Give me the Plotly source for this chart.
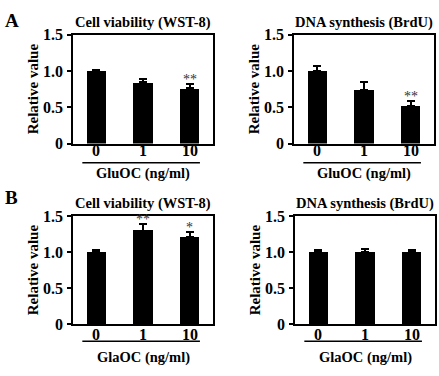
import plotly.graph_objects as go

doses = ["0", "1", "10"]

a_wst_vals = [1.00, 0.845, 0.76]
a_wst_err = [0.02, 0.05, 0.06]
a_wst_sig = ["", "", "**"]

a_brdu_vals = [1.00, 0.745, 0.52]
a_brdu_err = [0.07, 0.11, 0.07]
a_brdu_sig = ["", "", "**"]

b_wst_vals = [1.00, 1.30, 1.21]
b_wst_err = [0.035, 0.09, 0.065]
b_wst_sig = ["", "**", "*"]

b_brdu_vals = [1.00, 0.995, 1.005]
b_brdu_err = [0.035, 0.045, 0.03]
b_brdu_sig = ["", "", ""]

y_tickvals = [0, 0.5, 1.0, 1.5]
y_ticktext = ["0", "0.5", "1.0", "1.5"]

panels = [
    dict(vals=a_wst_vals, err=a_wst_err, sig=a_wst_sig, title="Cell viability (WST-8)", xt="GluOC (ng/ml)"),
    dict(vals=a_brdu_vals, err=a_brdu_err, sig=a_brdu_sig, title="DNA synthesis (BrdU)", xt="GluOC (ng/ml)"),
    dict(vals=b_wst_vals, err=b_wst_err, sig=b_wst_sig, title="Cell viability (WST-8)", xt="GlaOC (ng/ml)"),
    dict(vals=b_brdu_vals, err=b_brdu_err, sig=b_brdu_sig, title="DNA synthesis (BrdU)", xt="GlaOC (ng/ml)"),
]

W, H = 439, 376
FONT = "Liberation Serif"

def px_x(p):
    return p / W

def px_y(p):
    return 1 - p / H

# plot boxes in pixels (left, right, top, bottom)
boxes = [
    (73, 213, 28, 142),
    (294, 434, 28, 142),
    (73, 213, 218, 331),
    (295, 435, 218, 331),
]
# pixel rows for: tick labels, underline, axis title
rows = [
    (149, 162, 173),
    (149, 162, 173),
    (342, 349, 366),
    (342, 349, 366),
]

fig = go.Figure()
annotations = []
shapes = []

for i, (pn, box, row) in enumerate(zip(panels, boxes, rows)):
    n = i + 1
    xa = "x" if n == 1 else f"x{n}"
    ya = "y" if n == 1 else f"y{n}"
    fig.add_trace(go.Bar(
        x=list(range(len(doses))), y=pn["vals"], xaxis=xa, yaxis=ya,
        marker=dict(color="black", line=dict(width=0)),
        width=0.42,
        error_y=dict(type="data", array=pn["err"], arrayminus=[0] * len(pn["err"]),
                     symmetric=False, color="black", thickness=2, width=4),
        showlegend=False,
    ))
    l, r, t, b = box
    ytick, yline, ytitle = row
    axkey = "xaxis" if n == 1 else f"xaxis{n}"
    aykey = "yaxis" if n == 1 else f"yaxis{n}"
    fig.update_layout(**{
        axkey: dict(domain=[px_x(l), px_x(r)], anchor=ya,
                    range=[-0.5, 2.5], showline=True, mirror=True, linecolor="black",
                    linewidth=1.5, ticks="", showgrid=False, zeroline=False,
                    showticklabels=False),
        aykey: dict(domain=[px_y(b), px_y(t)], anchor=xa, range=[0, 1.5],
                    tickvals=y_tickvals, ticktext=[f"<b>{s}</b>" for s in y_ticktext],
                    showline=True, mirror=True,
                    linecolor="black", linewidth=1.5, ticks="outside", ticklen=4,
                    tickcolor="black", tickwidth=1.5, showgrid=False, zeroline=False,
                    ticklabelstandoff=1,
                    tickfont=dict(family=FONT, size=16, color="black"),
                    title=dict(text="<b>Relative value</b>", standoff=1,
                               font=dict(family=FONT, size=15, color="black"))),
    })
    # x tick labels
    for k, d in enumerate(doses):
        annotations.append(dict(text=f"<b>{d}</b>", xref=xa, yref="paper", x=k,
                                y=px_y(ytick), xanchor="center", yanchor="middle",
                                showarrow=False, font=dict(family=FONT, size=16, color="black")))
    # panel title
    annotations.append(dict(text=f"<b>{pn['title']}</b>", xref=f"{xa} domain", yref="paper",
                            x=0.5, y=px_y(t - 13), xanchor="center", yanchor="middle",
                            showarrow=False, font=dict(family=FONT, size=14.5, color="black")))
    # x axis title
    annotations.append(dict(text=f"<b>{pn['xt']}</b>", xref=f"{xa} domain", yref="paper",
                            x=0.5, y=px_y(ytitle), xanchor="center", yanchor="middle",
                            showarrow=False, font=dict(family=FONT, size=14.5, color="black")))
    # underline
    shapes.append(dict(type="line", xref=xa, yref="paper", x0=-0.3, x1=2.22,
                       y0=px_y(yline), y1=px_y(yline), line=dict(color="black", width=1.5)))
    # significance
    for k, (v, e, s) in enumerate(zip(pn["vals"], pn["err"], pn["sig"])):
        if s:
            annotations.append(dict(text=s, xref=xa, yref=ya, x=k, y=v + e,
                                    xanchor="center", yanchor="bottom", yshift=-5,
                                    showarrow=False,
                                    font=dict(family=FONT, size=14, color="#333333")))

for lab, y in [("A", 13), ("B", 198)]:
    annotations.append(dict(text=f"<b>{lab}</b>", xref="paper", yref="paper",
                            x=px_x(3), y=px_y(y), xanchor="left", yanchor="middle",
                            showarrow=False, font=dict(family=FONT, size=19, color="black")))

fig.update_layout(
    width=W, height=H, margin=dict(l=0, r=0, t=0, b=0),
    paper_bgcolor="white", plot_bgcolor="white",
    annotations=annotations, shapes=shapes, bargap=0,
)

fig.write_html("out.html", config={"displayModeBar": False},
               post_script="document.body.style.margin='0';document.body.style.overflow='hidden';")
